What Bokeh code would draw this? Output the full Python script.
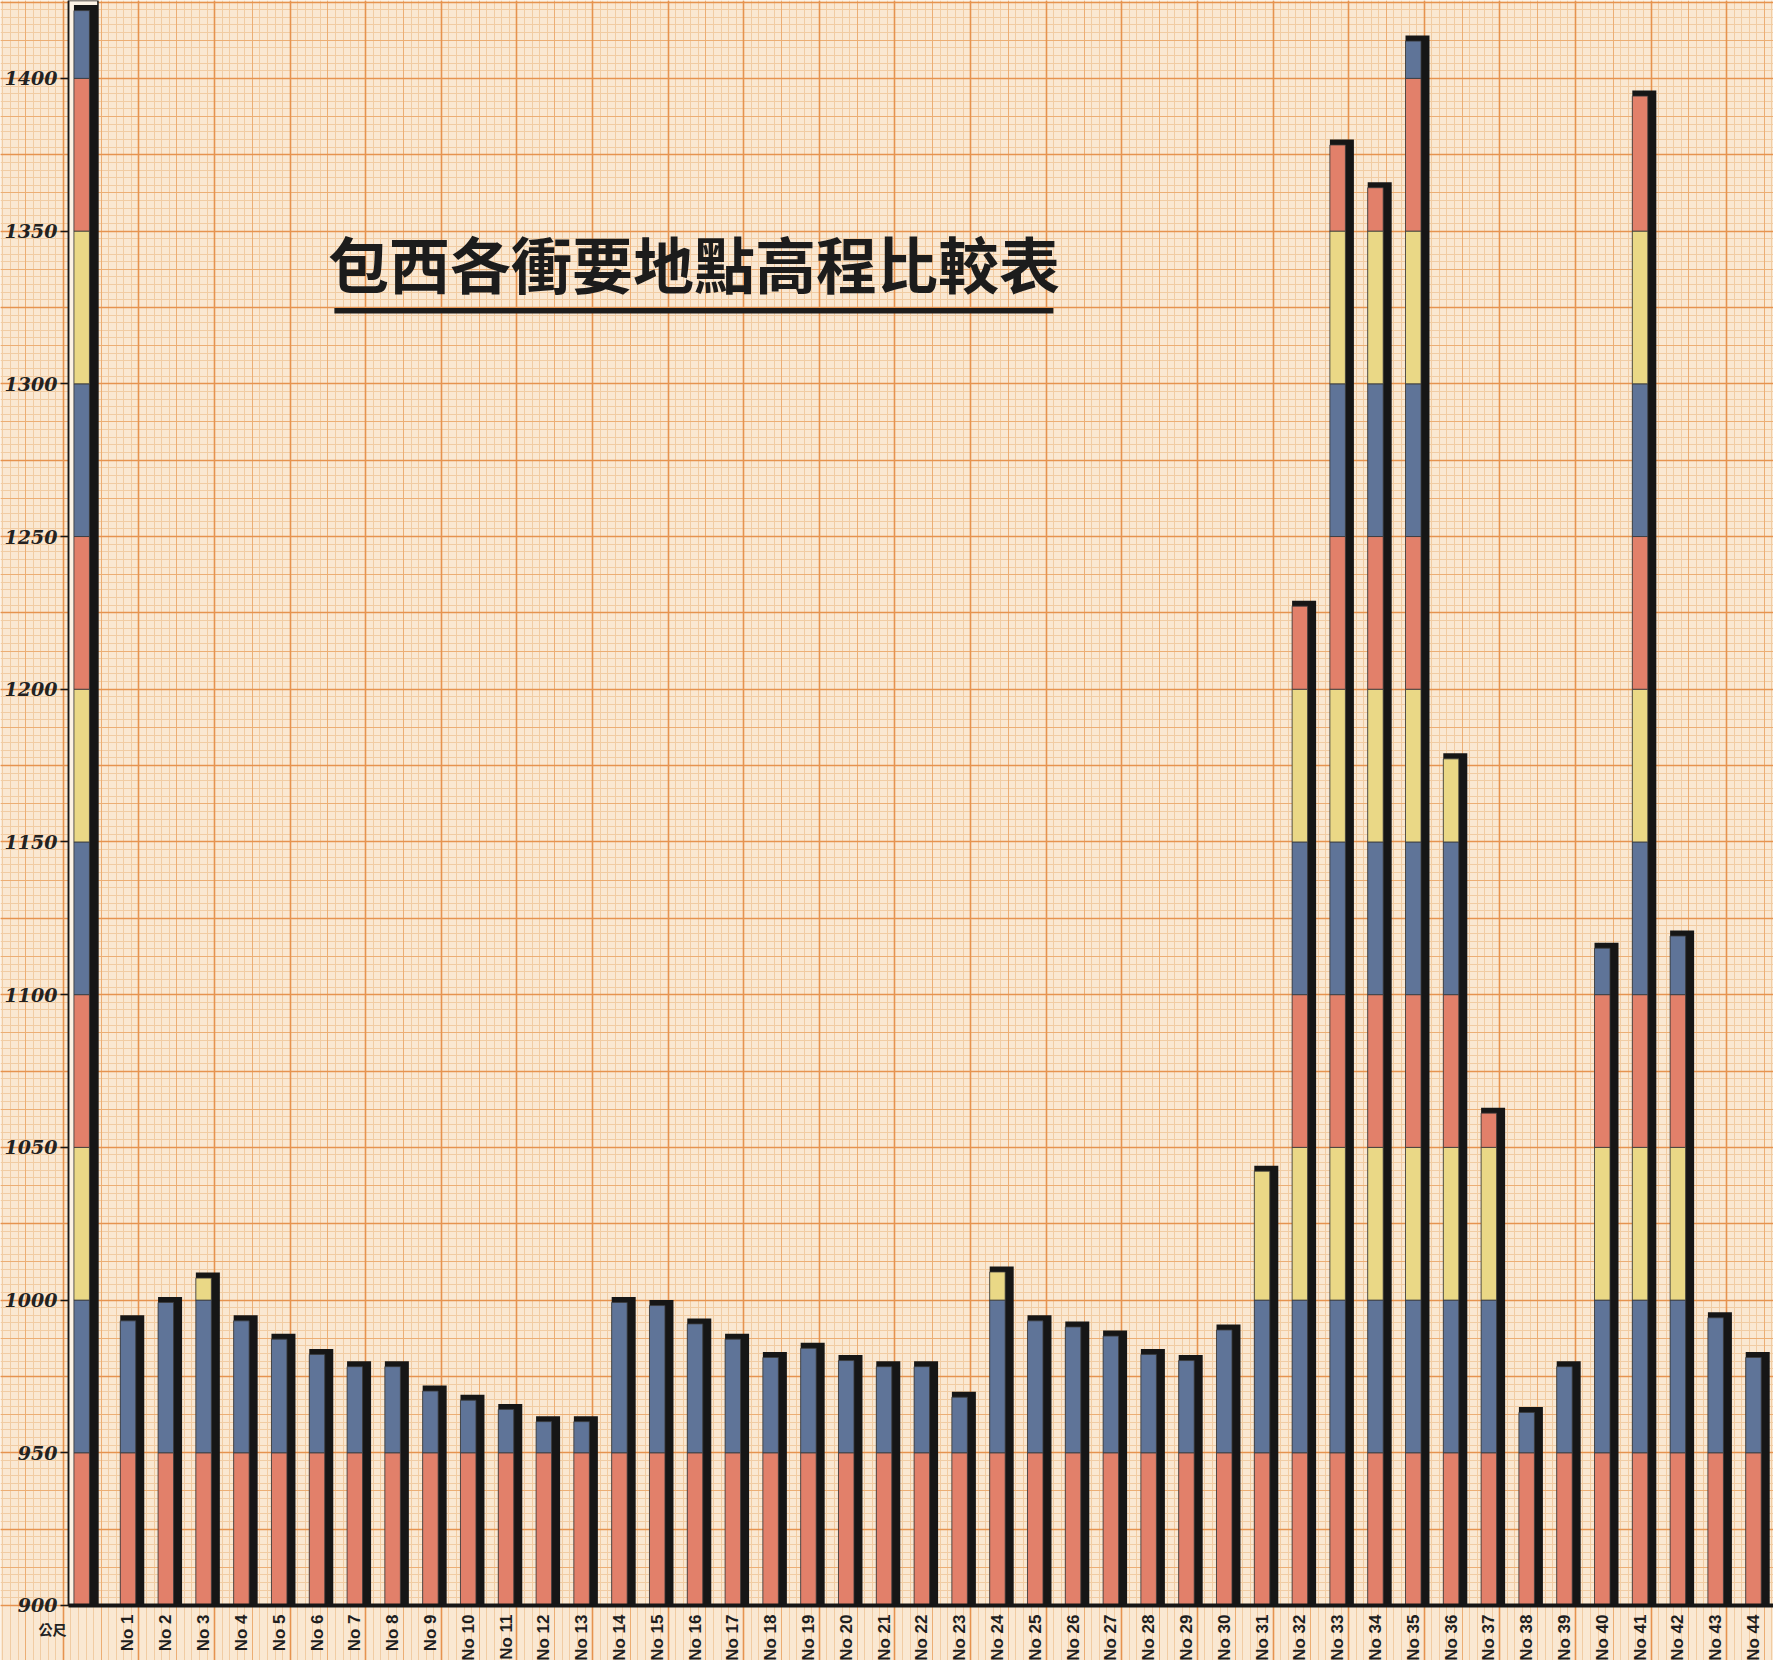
from math import pi
from bokeh.plotting import figure
from bokeh.models import (ColumnDataSource, FixedTicker, SingleIntervalTicker,
                          Grid, Label, BoxAnnotation)
from bokeh.embed import file_html
from bokeh.resources import INLINE

# ---------------- data ----------------
TITLE = "包西各衝要地點高程比較表"
UNIT = "公尺"
STATIONS = [f"No {i}" for i in range(1, 45)]
ELEVATION = [995, 1001, 1009, 995, 989, 984, 980, 980, 972, 969,
             966, 962, 962, 1001, 1000, 994, 989, 983, 986, 982,
             980, 980, 970, 1011, 995, 993, 990, 984, 982, 992,
             1044, 1229, 1380, 1366, 1414, 1179, 1063, 965, 980, 1117,
             1396, 1121, 996, 983]
SCALE_TOP = 1424          # the reference scale column at the left
Y_TICKS = [900, 950, 1000, 1050, 1100, 1150, 1200, 1250, 1300, 1350, 1400]
BASE = 900
BAND_STEP = 50

# ---------------- style ----------------
BAND_COLORS = ["#E2806A", "#5F7498", "#EAD886"]
PAPER = "#FAE8D2"
INK = "#161616"
BAR_W = 0.41
SHADOW = 0.225
CAP = 1.8

xs = list(range(1, len(STATIONS) + 1))
scale_x = -0.225
all_x = [scale_x] + xs
all_top = [SCALE_TOP] + ELEVATION

seg = dict(x=[], bottom=[], top=[], color=[])
for x, v in zip(all_x, all_top):
    t = v - CAP
    k = 0
    while BASE + k * BAND_STEP < t:
        seg["x"].append(x)
        seg["bottom"].append(BASE + k * BAND_STEP)
        seg["top"].append(min(BASE + (k + 1) * BAND_STEP, t))
        seg["color"].append(BAND_COLORS[k % 3])
        k += 1
seg_src = ColumnDataSource(seg)

shadow_src = ColumnDataSource(dict(
    left=[x - BAR_W / 2 for x in all_x],
    right=[x + BAR_W / 2 + SHADOW for x in all_x],
    top=all_top,
))

AX = -0.574            # x where the vertical axis stands
XS, XE = -2.373, 44.53
YS, YE = 881.99, 1425.5
p = figure(width=1773, height=1660, x_range=(XS, XE), y_range=(YS, YE),
           output_backend="svg", toolbar_location=None,
           min_border_left=0, min_border_right=0, min_border_top=0, min_border_bottom=0,
           background_fill_color=PAPER, border_fill_color=PAPER, outline_line_color=None)

p.xgrid.visible = False
p.ygrid.visible = False

# graph-paper grid
fine_x = [1.29 + 0.2 * k for k in range(-20, 230)]
med_x = [1.29 + 1.0 * k for k in range(-4, 46)]
heavy_x = [1.29 + 2.0 * k for k in range(-2, 23)]
for dim, ticker, color, w in [
    (1, SingleIntervalTicker(interval=2.5), "#F1CCA3", 1),
    (0, FixedTicker(ticks=fine_x), "#F1CCA3", 1),
    (1, SingleIntervalTicker(interval=12.5), "#ECAE74", 1),
    (0, FixedTicker(ticks=med_x), "#ECAE74", 1),
    (1, SingleIntervalTicker(interval=25), "#E6934F", 1.6),
    (0, FixedTicker(ticks=heavy_x), "#E6934F", 1.6),
]:
    p.add_layout(Grid(dimension=dim, ticker=ticker, grid_line_color=color,
                      grid_line_width=w))

# scale column outline box
p.quad(left=[AX], right=[scale_x + BAR_W / 2 + SHADOW], bottom=[BASE],
       top=[SCALE_TOP + 1.5], fill_color="#FCF2E4", line_color=INK, line_width=1.5)

# black shadows
p.quad(left="left", right="right", bottom=BASE, top="top", source=shadow_src,
       fill_color=INK, line_color=None)
# colored bands
p.vbar(x="x", width=BAR_W, bottom="bottom", top="top", source=seg_src,
       fill_color="color", line_color="#3a3a3a", line_width=0.8)

# axes (placed inside the frame so the paper grid runs under the labels)
p.yaxis.fixed_location = AX
p.yaxis.bounds = (BASE, YE)
p.yaxis.ticker = FixedTicker(ticks=Y_TICKS)
p.yaxis.major_label_text_font = "DejaVu Serif"
p.yaxis.major_label_text_font_style = "bold italic"
p.yaxis.major_label_text_font_size = "19px"
p.yaxis.major_label_text_color = "#222222"
p.yaxis.axis_line_color = INK
p.yaxis.axis_line_width = 1.5
p.yaxis.major_tick_out = 8
p.yaxis.major_tick_in = 0
p.yaxis.major_tick_line_color = INK
p.yaxis.major_tick_line_width = 1.5
p.yaxis.minor_tick_line_color = None
p.yaxis.major_label_standoff = 3

p.xaxis.fixed_location = BASE
p.xaxis.bounds = (AX, XE)
p.xaxis.ticker = FixedTicker(ticks=xs)
p.xaxis.major_label_overrides = {x: s for x, s in zip(xs, STATIONS)}
p.xaxis.major_label_orientation = pi / 2
p.xaxis.major_label_text_font = "Liberation Sans"
p.xaxis.major_label_text_font_style = "bold"
p.xaxis.major_label_text_font_size = "17px"
p.xaxis.major_label_text_color = "#1e1e1e"
p.xaxis.axis_line_color = INK
p.xaxis.axis_line_width = 4
p.xaxis.major_tick_line_color = None
p.xaxis.minor_tick_line_color = None
p.xaxis.major_label_standoff = 3

# title and underline
p.add_layout(Label(x=15.97, y=1339.7, text=TITLE, text_align="center",
                   text_baseline="middle", text_font="Noto Sans CJK TC",
                   text_font_style="bold", text_font_size="61px", text_color="#1c1c1c"))
p.add_layout(BoxAnnotation(left=6.46, right=25.48, bottom=1323.0, top=1324.8,
                           fill_color="#1c1c1c", fill_alpha=1, line_color=None))

# unit label
p.add_layout(Label(x=AX, y=BASE, x_offset=-2, y_offset=-24, text=UNIT,
                   text_align="right", text_baseline="middle",
                   text_font="Noto Sans CJK TC", text_font_size="14px",
                   text_font_style="bold", text_color="#222222"))

open("out.html", "w").write(file_html(p, INLINE))
